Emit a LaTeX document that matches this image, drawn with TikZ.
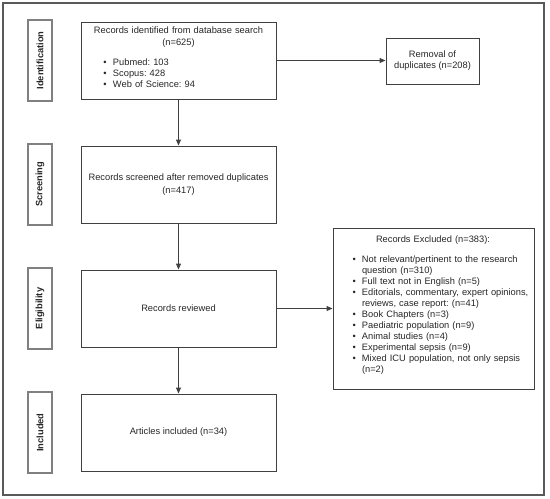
\documentclass[tikz,border=0pt]{standalone}
\usepackage{fontspec}
\setmainfont{Liberation Sans}
\usetikzlibrary{arrows.meta}
\frenchspacing

% bullet line with hanging indent, optional left offset
\newcommand{\bitem}[2][0pt]{\par\hangindent=\dimexpr#1+9.5pt\relax\hangafter=1\noindent\hspace*{#1}\makebox[9.5pt][l]{\textbullet}#2\par}
\newcommand{\ctrline}[1]{\par\noindent\makebox[\hsize]{#1}\par}

\begin{document}
\begin{tikzpicture}[x=1pt,y=-1pt,
    every node/.style={font=\fontsize{9.3}{11}\selectfont, text=black!85},
    flowbox/.style={draw=black!75, line width=0.9pt, minimum width=195pt, minimum height=77pt, inner sep=0pt, align=center},
    stagebox/.style={draw=black!50, line width=1.4pt, minimum width=81pt, minimum height=24pt, inner sep=0pt, rotate=90, font=\bfseries\fontsize{9.3}{11}\selectfont},
    flow/.style={draw=black!75, line width=0.9pt, -{Triangle[length=6pt,width=5pt]}}]

    \useasboundingbox (0,0) rectangle (550,499);
    \draw[black!65, line width=1.3pt] (3,3) rectangle (544,495); %outer frame

    % stage labels on the left
    \foreach \stage/\yy in {Identification/60.5, Screening/184.5, Eligibility/308.5, Included/432.5} {
      \node[stagebox] (\stage) at (40,\yy) {\stage};
    }

    % main column
    \node[flowbox, text width=166pt, align=left] (ident) at (178.5,60.5) {%
      \ctrline{Records identified from database search}
      \vspace{1pt}\ctrline{(n=625)}\vspace{9pt}
      \bitem[8pt]{Pubmed: 103}
      \bitem[8pt]{Scopus: 428}
      \bitem[8pt]{Web of Science: 94}\vspace{10pt}};
    \node[flowbox] (screen) at (178.5,184.5) {Records screened after removed duplicates\\[1.5pt](n=417)};
    \node[flowbox] (elig) at (178.5,308.5) {Records reviewed};
    \node[flowbox] (incl) at (178.5,432.5) {Articles included (n=34)};

    % side boxes
    \node[flowbox, minimum width=93pt, minimum height=46pt] (dupl) at (432.5,61) {Removal of\\duplicates (n=208)};
    \node[flowbox, minimum width=201pt, minimum height=161pt, text width=196pt, align=left] (excl) at (433.5,308.5) {%
      \par\noindent\hspace*{40.5pt}Records Excluded (n=383):\par\vspace{9pt}
      \bitem[17pt]{Not relevant/pertinent to the research\newline question (n=310)}
      \bitem[17pt]{Full text not in English (n=5)}
      \bitem[17pt]{Editorials, commentary, expert opinions,\newline reviews, case report: (n=41)}
      \bitem[17pt]{Book Chapters (n=3)}
      \bitem[17pt]{Paediatric population (n=9)}
      \bitem[17pt]{Animal studies (n=4)}
      \bitem[17pt]{Experimental sepsis (n=9)}
      \bitem[17pt]{Mixed ICU population, not only sepsis\newline (n=2)}\vspace{12pt}};

    % connectors
    \draw[flow] (ident) -- (screen);
    \draw[flow] (screen) -- (elig);
    \draw[flow] (elig) -- (incl);
    \draw[flow] (ident.east) -- (ident.east -| dupl.west);
    \draw[flow] (elig) -- (excl);
  \end{tikzpicture}
\end{document}
